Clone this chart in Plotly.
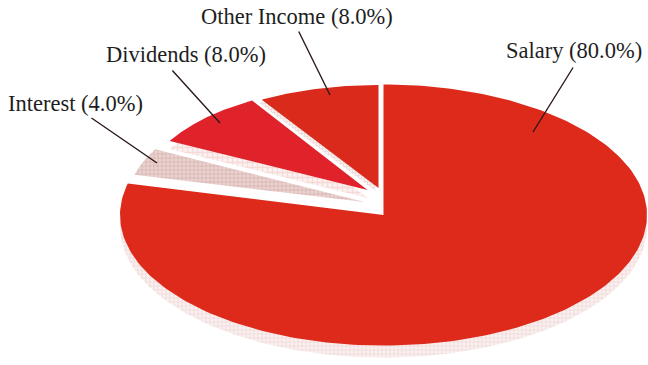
import numpy as np
import plotly.graph_objects as go

# --- data ---
categories = ["Salary", "Interest", "Dividends", "Other Income"]
shares = [80.0, 4.0, 8.0, 8.0]

# --- view of the tilted pie (pixels in a 648x365 page) ---
W, H = 648, 365
CX, CY, RX, RY = 383.5, 215.0, 263.5, 130.5
# per-slice: shift of the exploded wedge (px) and radius factors
explode_dx = [0, -19, -16, -5]
explode_dy = [0, -13, -25, -27]
radius_kx = [1.0, 0.90, 0.85, 0.86]
radius_ky = [1.0, 0.86, 0.80, 0.79]
colors = ["#DD2A1B", "#DDBDBB", "#E0222A", "#D92A1C"]
# slight foreshortening of the drawn angles
warp_in = [0, 288, 302.4, 331.2, 360]
warp_out = [0, 284, 298, 329, 360]
# label texts placement: centre x, centre y, leader start, leader end
label_x = [574, 75.5, 185.5, 296.5]
label_y = [51, 103, 55, 16]
lead_from = [(574, 66), (90, 117), (171, 69), (298, 30)]
lead_to = [(533, 132), (157, 163), (220, 123), (330, 95)]


def wedge(i, ox=0.0, oy=0.0):
    a0 = np.interp(starts[i], warp_in, warp_out)
    a1 = np.interp(starts[i] + sweeps[i], warp_in, warp_out)
    t = np.radians(np.linspace(a0, a1, 240))
    x = np.r_[0, radius_kx[i] * np.sin(t), 0] + (explode_dx[i] + ox) / RX
    y = np.r_[0, radius_ky[i] * np.cos(t), 0] - (explode_dy[i] + oy) / RY
    return x, y


starts = np.r_[0, np.cumsum(shares)[:-1]] * 3.6
sweeps = np.array(shares) * 3.6

fig = go.Figure()


def shadow(i, ox, oy, fg, size=4):
    x, y = wedge(i, ox, oy)
    fig.add_trace(go.Scatter(
        x=x, y=y, mode="lines", fill="toself", line=dict(width=0),
        fillcolor="#FBF1F1",
        fillpattern=dict(shape="+", fgcolor=fg, bgcolor="#FBF1F1", size=size, solidity=0.45),
        hoverinfo="skip", showlegend=False))


shadow(0, 0, 12, "#E6C6C8")
shadow(2, 0, 8, "#F0C4BE", 5)
shadow(3, -3, 3, "#D8C4BC", 3)

for i, name in enumerate(categories):
    x, y = wedge(i)
    kw = {}
    if name == "Interest":
        kw["fillpattern"] = dict(shape="+", fgcolor="#C49A9A", bgcolor="#EBD3D0", size=4, solidity=0.4)
    fig.add_trace(go.Scatter(
        x=x, y=y, mode="lines", fill="toself", line=dict(width=0),
        fillcolor=colors[i], name=name, hoverinfo="name", showlegend=False, **kw))

for i, name in enumerate(categories):
    fig.add_annotation(
        x=label_x[i] / W, y=1 - label_y[i] / H, xref="paper", yref="paper",
        xanchor="center", yanchor="middle",
        text=f"{name} ({shares[i]:.1f}%)", showarrow=False,
        font=dict(family="Liberation Serif", size=22.5, color="#1E1E1E"))
    (x0, y0), (x1, y1) = lead_from[i], lead_to[i]
    fig.add_annotation(
        x=x1 / W, y=1 - y1 / H, xref="paper", yref="paper", text="",
        showarrow=True, arrowhead=0, arrowwidth=1.4, arrowcolor="#2A1A18",
        axref="pixel", ayref="pixel", ax=x0 - x1, ay=y0 - y1, standoff=0, startstandoff=0)

fig.update_xaxes(visible=False, range=[-CX / RX, (W - CX) / RX], fixedrange=True)
fig.update_yaxes(visible=False, range=[-(H - CY) / RY, CY / RY], fixedrange=True)
fig.update_layout(width=W, height=H, margin=dict(l=0, r=0, t=0, b=0),
                  paper_bgcolor="white", plot_bgcolor="white", showlegend=False)
fig.write_html("out.html", config={"displayModeBar": False},
               post_script="document.body.style.margin='0';document.body.style.overflow='hidden';")
